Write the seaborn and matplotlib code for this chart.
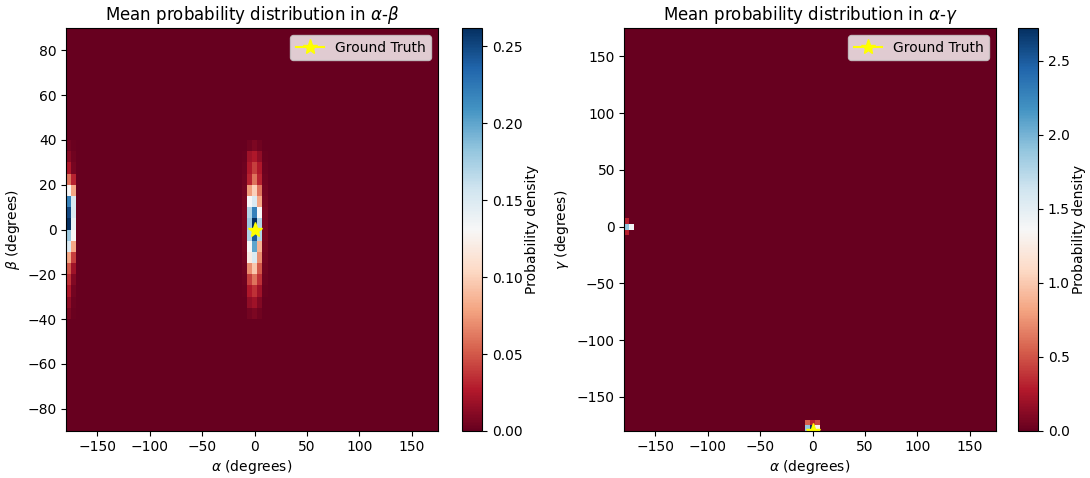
import numpy as np
import pandas as pd
import matplotlib
matplotlib.use("Agg")
import matplotlib.pyplot as plt
import seaborn as sns

# ---------------- grids ----------------
alpha_deg = list(range(-180, 180, 5))          # 72 alpha cells
beta_deg = list(range(85, -95, -5))            # 36 beta cells (lower edge), top -> bottom
gamma_deg = list(range(175, -185, -5))         # 72 gamma cells, top -> bottom

# ---------------- alpha-beta data ----------------
# beta bins (lower edge) where the non-zero ridge sits, top -> bottom
ridge_beta = [35, 30, 25, 20, 15, 10, 5, 0, -5, -10, -15, -20, -25, -30, -35, -40]
# ridge around alpha = 0
ab_alpha_m10 = [0.000, 0.002, 0.003, 0.004, 0.005, 0.006, 0.007, 0.007, 0.007, 0.006, 0.005, 0.004, 0.003, 0.002, 0.000, 0.000]
ab_alpha_m5 = [0.004, 0.020, 0.025, 0.030, 0.075, 0.130, 0.170, 0.180, 0.170, 0.130, 0.120, 0.070, 0.040, 0.025, 0.015, 0.005]
ab_alpha_0 = [0.008, 0.025, 0.040, 0.060, 0.100, 0.150, 0.220, 0.262, 0.240, 0.200, 0.150, 0.095, 0.060, 0.035, 0.020, 0.008]
ab_alpha_p5 = [0.004, 0.015, 0.025, 0.030, 0.060, 0.080, 0.130, 0.170, 0.170, 0.085, 0.070, 0.050, 0.035, 0.020, 0.010, 0.004]
ab_alpha_p10 = [0.000, 0.002, 0.003, 0.004, 0.005, 0.006, 0.007, 0.007, 0.007, 0.006, 0.005, 0.004, 0.003, 0.002, 0.000, 0.000]
# ridge at the alpha = -180 edge
ab_alpha_m180 = [0.005, 0.012, 0.025, 0.060, 0.130, 0.220, 0.250, 0.262, 0.180, 0.150, 0.080, 0.050, 0.035, 0.025, 0.015, 0.008]
ab_alpha_m175 = [0.002, 0.004, 0.006, 0.030, 0.080, 0.150, 0.150, 0.140, 0.130, 0.080, 0.040, 0.020, 0.010, 0.005, 0.003, 0.002]

# ---------------- alpha-gamma data ----------------
ag_spot_alpha = [-180, -175, -180, -180, -5, 0, 5, -5, 0, 5]
ag_spot_gamma = [0, 0, 5, -5, -180, -180, -180, -175, -175, -175]
ag_spot_value = [1.90, 1.40, 0.30, 0.30, 1.90, 2.72, 1.30, 0.55, 0.30, 0.45]

truth_alpha, truth_beta, truth_gamma = 0, 0, -180

# ---------------- build tables ----------------
ab = pd.DataFrame(0.0, index=beta_deg, columns=alpha_deg)
for a, col in [(-10, ab_alpha_m10), (-5, ab_alpha_m5), (0, ab_alpha_0), (5, ab_alpha_p5),
               (10, ab_alpha_p10), (-180, ab_alpha_m180), (-175, ab_alpha_m175)]:
    for b, v in zip(ridge_beta, col):
        ab.loc[b, a] = v

ag = pd.DataFrame(0.0, index=gamma_deg, columns=alpha_deg)
for a, g, v in zip(ag_spot_alpha, ag_spot_gamma, ag_spot_value):
    ag.loc[g, a] = v

# ---------------- figure ----------------
W, H = 1090, 478
fig = plt.figure(figsize=(W / 100, H / 100), dpi=100)


def box(x0, y0, x1, y1):
    return [x0 / W, 1 - y1 / H, (x1 - x0) / W, (y1 - y0) / H]


ax1 = fig.add_axes(box(66, 28, 438, 431))
cax1 = fig.add_axes(box(462, 28, 482, 431))
ax2 = fig.add_axes(box(624, 28, 996, 431))
cax2 = fig.add_axes(box(1018, 28, 1038, 431))

ncol = len(alpha_deg)


def ax_x(a):
    return (a + 180) / 355 * ncol


def ab_y(b):
    return (90 - b) / 180 * len(beta_deg)


def ag_y(g):
    return (175 - g) / 355 * len(gamma_deg)


def fmt(v):
    return str(v).replace("-", "\u2212")


for ax, cax, data, ylab, title, yticks, ymap, cticks, cfmt in [
    (ax1, cax1, ab, r"$\beta$ (degrees)", r"Mean probability distribution in $\alpha$-$\beta$",
     list(range(-80, 81, 20)), ab_y, [0, 0.05, 0.10, 0.15, 0.20, 0.25], "{:.2f}"),
    (ax2, cax2, ag, r"$\gamma$ (degrees)", r"Mean probability distribution in $\alpha$-$\gamma$",
     list(range(-150, 151, 50)), ag_y, [0, 0.5, 1.0, 1.5, 2.0, 2.5], "{:.1f}"),
]:
    sns.heatmap(data, ax=ax, cbar_ax=cax, cmap="RdBu", vmin=0, vmax=float(data.values.max()),
                xticklabels=False, yticklabels=False,
                cbar_kws={"label": "Probability density"})
    for sp in ax.spines.values():
        sp.set_visible(True)
        sp.set_linewidth(0.8)
        sp.set_color("black")
    xt = list(range(-150, 151, 50))
    ax.set_xticks([ax_x(a) for a in xt])
    ax.set_xticklabels([fmt(a) for a in xt], rotation=0)
    ax.set_yticks([ymap(v) for v in yticks])
    ax.set_yticklabels([fmt(v) for v in yticks], rotation=0)
    ax.tick_params(length=3.5, width=0.8, labelsize=10, pad=3)
    ax.set_xlabel(r"$\alpha$ (degrees)", fontsize=10, labelpad=3)
    ax.set_ylabel(ylab, fontsize=10)
    ax.set_title(title, fontsize=12)
    cb = ax.collections[0].colorbar
    cb.outline.set_visible(True)
    cb.outline.set_linewidth(0.8)
    cb.set_ticks(cticks)
    cb.set_ticklabels([cfmt.format(t) for t in cticks])
    cb.ax.tick_params(length=3.5, width=0.8, labelsize=10)
    cb.set_label("Probability density", fontsize=10, labelpad=2)

ax1.plot([ax_x(truth_alpha)], [ab_y(truth_beta)], marker="*", color="yellow",
         markersize=11, label="Ground Truth")
ax2.plot([ax_x(truth_alpha)], [ag_y(truth_gamma)], marker="*", color="yellow",
         markersize=11, label="Ground Truth")
ax1.legend(loc="upper right")
ax2.legend(loc="upper right")

fig.savefig("out.png", dpi=100)
